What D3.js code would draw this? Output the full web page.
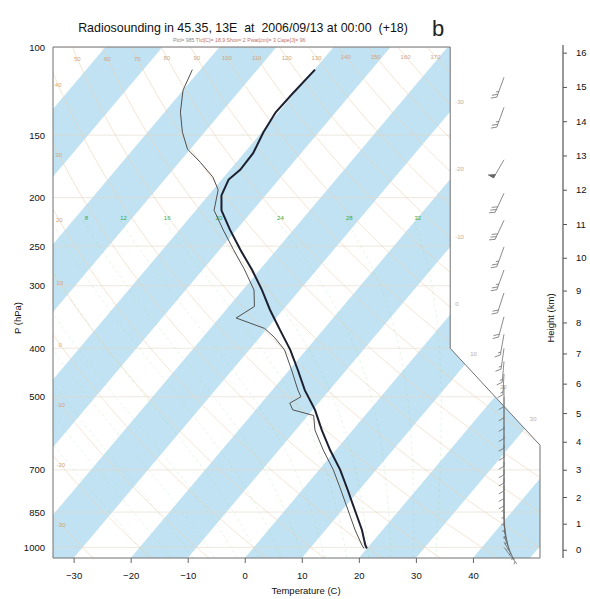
<!DOCTYPE html>
<html>
<head>
<meta charset="utf-8">
<script src="https://cdn.jsdelivr.net/npm/d3@7"></script>
<style>
  body { margin: 0; background: #fff; }
  svg text { font-family: "Liberation Sans", Arial, Helvetica, sans-serif; }
</style>
</head>
<body>
<svg id="chart" width="590" height="599"></svg>
<script>
// ---- Sounding: temperature profile (hPa, °C)
const tempP = [1005, 989, 923, 842, 768, 700, 639, 583, 531, 485, 442, 403, 368, 335, 306, 279, 254, 232, 212, 198, 184, 176, 163, 148, 135, 124, 111];
const tempC = [20.0, 19.2, 16.4, 12.2, 8.0, 3.7, -1.0, -5.4, -9.6, -14.3, -18.5, -22.8, -27.5, -32.3, -36.6, -41.3, -46.4, -51.1, -55.5, -57.7, -58.8, -58.2, -58.4, -59.7, -60.5, -60.3, -59.9];

// ---- Sounding: dew point profile (hPa, °C)
const dewP = [1005, 989, 923, 842, 768, 700, 639, 583, 545, 531, 515, 500, 485, 442, 403, 380, 365, 348, 330, 306, 279, 254, 232, 212, 193, 182, 170, 160, 148, 135, 122, 111];
const dewC = [19.5, 18.6, 15.2, 11.0, 6.8, 2.5, -2.2, -6.6, -9.0, -13.5, -15.0, -14.0, -15.5, -19.6, -23.8, -27.5, -30.5, -37.0, -35.5, -38.0, -42.6, -47.6, -52.3, -56.8, -59.1, -61.9, -66.3, -70.5, -73.9, -77.2, -80.0, -81.4];

// ---- Winds: level (hPa), direction (deg), speed (kt)
const windP   = [115, 132, 168, 196, 222, 251, 279, 310, 346, 375, 400, 425, 450, 475, 500, 525, 550, 575, 600, 625, 650, 675, 700, 725, 750, 775, 800, 825, 850, 875, 900, 925, 950, 975, 1000];
const windDir = [200, 200, 210, 205, 205, 200, 200, 198, 195, 190, 188, 185, 183, 180, 180, 180, 180, 180, 180, 180, 180, 180, 180, 180, 180, 180, 180, 180, 178, 175, 170, 165, 158, 150, 142];
const windSpd = [25, 25, 50, 30, 30, 25, 25, 20, 20, 15, 15, 15, 15, 10, 10, 10, 10, 10, 10, 10, 10, 10, 10, 10, 10, 5, 5, 5, 5, 5, 5, 5, 5, 5, 5];

// ---- Axis ticks and background line sets
const pressureTicks = [1000, 850, 700, 500, 400, 300, 250, 200, 150, 100];
const tempTicks = [-30, -20, -10, 0, 10, 20, 30, 40];
const heightTicks = [0, 1, 2, 3, 4, 5, 6, 7, 8, 9, 10, 11, 12, 13, 14, 15, 16];
const bandStarts = [-120, -100, -80, -60, -40, -20, 0, 20, 40];
const dryThetas = [-30, -20, -10, 0, 10, 20, 30, 40, 50, 60, 70, 80, 90, 100, 110, 120, 130, 140, 150, 160, 170];
const moistThetaW = [-20, -16, -12, -8, -4, 0, 4, 8, 12, 16, 20, 24, 28, 32];
const isothermLabels = [-30, -20, -10, 0, 10, 20, 30];

const titleText = "Radiosounding in 45.35, 13E  at  2006/09/13 at 00:00  (+18)";

// ---- Skew-T coordinate system
const XMIN = -19.0, XMAX = 27.1, YMIN = -0.9346217, YMAX = 44.061;
const yOfP = p => 132.182 - 44.061 * Math.log10(p);
const xOfTP = (t, p) => 0.54 * t + 0.90692 * yOfP(p);

const sx = d3.scaleLinear().domain([XMIN, XMAX]).range([53, 540]);
const sy = d3.scaleLinear().domain([YMIN, YMAX]).range([558, 47]);
const pScale = d3.scaleLog().domain([1050, 100]).range([558, 47]);
const tScale = d3.scaleLinear()
  .domain([(XMIN - 0.90692 * YMIN) / 0.54, (XMAX - 0.90692 * YMIN) / 0.54])
  .range([53, 540]);

const px = (t, p) => sx(xOfTP(t, p));
const py = p => sy(yOfP(p));

const svg = d3.select("#chart");
const outline = [[XMIN, YMIN], [XMAX, YMIN], [XMAX, 9.0], [18.6, 17.53], [18.6, YMAX], [XMIN, YMAX]];
const outlinePx = outline.map(d => [sx(d[0]), sy(d[1])]);

svg.append("defs").append("clipPath").attr("id", "diag")
  .append("polygon").attr("points", outlinePx.map(d => d.join(",")).join(" "));

const plot = svg.append("g").attr("clip-path", "url(#diag)");
const line = d3.line();

// Alternating shaded isotherm bands
bandStarts.forEach(t1 => {
  const t2 = t1 + 10;
  const pts = [[0.54 * t1 + 0.90692 * YMIN, YMIN], [0.54 * t2 + 0.90692 * YMIN, YMIN],
               [0.54 * t2 + 0.90692 * YMAX, YMAX], [0.54 * t1 + 0.90692 * YMAX, YMAX]];
  plot.append("polygon")
    .attr("points", pts.map(d => sx(d[0]) + "," + sy(d[1])).join(" "))
    .attr("fill", "#c0e2f2");
});

// Isobars
pressureTicks.forEach(p => {
  plot.append("line")
    .attr("x1", sx(XMIN)).attr("x2", sx(XMAX))
    .attr("y1", pScale(p)).attr("y2", pScale(p))
    .attr("stroke", "#e3d6c8").attr("stroke-width", 0.6);
});

// Dry adiabats
const pLevels = d3.range(1050, 99, -5);
const inside = (x, y) => d3.polygonContains(outline, [x, y]);
dryThetas.forEach(th => {
  const pts = pLevels.map(p => {
    const t = (th + 273.15) * Math.pow(p / 1000, 0.28571) - 273.15;
    return [px(t, p), py(p)];
  });
  plot.append("path").attr("d", line(pts))
    .attr("fill", "none").attr("stroke", "#ecd2b6").attr("stroke-width", 0.6);
  // label near the upper end where the line enters the diagram
  const fine = d3.range(100, 1050, 0.5).map(p => {
    const t = (th + 273.15) * Math.pow(p / 1000, 0.28571) - 273.15;
    return [px(t, p), py(p), xOfTP(t, p), yOfP(p)];
  });
  const i0 = fine.findIndex(d => inside(d[2], d[3]));
  if (i0 < 0) return;
  const e = fine[i0];
  const lab = fine.slice(i0).find(d => Math.hypot(d[0] - e[0], d[1] - e[1]) >= 12);
  if (!lab) return;
  svg.append("text").attr("x", lab[0]).attr("y", lab[1] + 2)
    .attr("text-anchor", "middle").attr("font-size", 6).attr("fill", "#cfa57a")
    .text(th);
});

// Saturated (moist) adiabats
function dTdp(T, p) {
  const es = 6.112 * Math.exp(17.67 * (T - 273.15) / (T - 29.65));
  const rs = 0.622 * es / (p - es);
  const Rd = 287.04, cp = 1005.7, L = 2.501e6;
  return (Rd * T + L * rs) / (p * (cp + L * L * rs * 0.622 / (Rd * T * T)));
}
function moistPath(tw) {
  const step = 2;
  let T = tw + 273.15, p = 1000;
  const up = [[p, T]];
  while (p > 220) {
    const k1 = dTdp(T, p), k2 = dTdp(T - step / 2 * k1, p - step / 2);
    const k3 = dTdp(T - step / 2 * k2, p - step / 2), k4 = dTdp(T - step * k3, p - step);
    T -= step / 6 * (k1 + 2 * k2 + 2 * k3 + k4); p -= step;
    up.push([p, T]);
  }
  T = tw + 273.15; p = 1000;
  const down = [];
  while (p < 1050) {
    T += step * dTdp(T, p); p += step;
    down.unshift([p, T]);
  }
  return down.concat(up).map(d => [d[0], d[1] - 273.15]);
}
moistThetaW.forEach(tw => {
  const pts = moistPath(tw);
  plot.append("path").attr("d", line(pts.map(d => [px(d[1], d[0]), py(d[0])])))
    .attr("fill", "none").attr("stroke", "#9fdc9f").attr("stroke-width", 0.6)
    .attr("stroke-dasharray", "3,3").attr("opacity", 0.45);
  const top = pts[pts.length - 1];
  const lx = xOfTP(top[1], top[0]), ly = yOfP(top[0]);
  if (inside(lx, ly) && lx > XMIN + 1) {
    svg.append("text").attr("x", sx(lx) + 5).attr("y", sy(ly) + 2)
      .attr("text-anchor", "middle").attr("font-size", 6).attr("fill", "#3aa540")
      .text(tw);
  }
});

// Isotherm labels where the lines leave the right side
isothermLabels.forEach(t => {
  let y = (18.6 - 0.54 * t) / 0.90692, x = 18.6;
  if (y < 17.53) {
    const k = 8.5 / 8.53;
    y = (18.6 + k * 17.53 - 0.54 * t) / (0.90692 + k);
    x = 0.54 * t + 0.90692 * y;
  }
  svg.append("text").attr("x", sx(x) + 5).attr("y", sy(y) - 8)
    .attr("font-size", 6).attr("fill", "#c2ad96").text(t);
});

// Diagram outline
svg.append("polygon").attr("points", outlinePx.map(d => d.join(",")).join(" "))
  .attr("fill", "none").attr("stroke", "#707070").attr("stroke-width", 1);

// Dew point and temperature profiles
const profLine = d3.line().x(d => px(d[1], d[0])).y(d => py(d[0]));
svg.append("path").attr("d", profLine(d3.zip(dewP, dewC)))
  .attr("fill", "none").attr("stroke", "#505050").attr("stroke-width", 1);
svg.append("path").attr("d", profLine(d3.zip(tempP, tempC)))
  .attr("fill", "none").attr("stroke", "#1c2030").attr("stroke-width", 2);

// Wind barbs
const barbX = 504, staff = 21;
windP.forEach((p, i) => {
  const th = windDir[i] * Math.PI / 180;
  const u = [Math.sin(th), -Math.cos(th)];
  const n = [-u[1], u[0]];
  const bx = barbX, by = pScale(p);
  const tip = [bx + staff * u[0], by + staff * u[1]];
  const g = svg.append("g").attr("stroke", "#666").attr("stroke-width", 0.75).attr("fill", "#666");
  g.append("line").attr("x1", bx).attr("y1", by).attr("x2", tip[0]).attr("y2", tip[1]);
  let s = windSpd[i], pos = 0;
  const at = d => [tip[0] - d * u[0], tip[1] - d * u[1]];
  const fl = 6;
  while (s >= 50) {
    const a = at(pos), b = at(pos + 4);
    const c = [a[0] + fl * n[0], a[1] + fl * n[1]];
    g.append("polygon").attr("points", [a, c, b].map(d => d.join(",")).join(" "));
    s -= 50; pos += 5;
  }
  while (s >= 10) {
    const a = at(pos);
    g.append("line").attr("x1", a[0]).attr("y1", a[1])
      .attr("x2", a[0] + fl * (0.87 * n[0] + 0.5 * u[0])).attr("y2", a[1] + fl * (0.87 * n[1] + 0.5 * u[1]));
    s -= 10; pos += 3;
  }
  if (s >= 5) {
    if (pos === 0) pos = 3;
    const a = at(pos);
    g.append("line").attr("x1", a[0]).attr("y1", a[1])
      .attr("x2", a[0] + 3 * (0.87 * n[0] + 0.5 * u[0])).attr("y2", a[1] + 3 * (0.87 * n[1] + 0.5 * u[1]));
  }
});

// Pressure axis (left)
const leftAxis = d3.axisLeft(pScale).tickValues(pressureTicks).tickFormat(d3.format("d")).tickSize(0).tickPadding(8);
svg.append("g").attr("transform", "translate(53,0)").call(leftAxis)
  .call(g => g.select(".domain").remove())
  .call(g => g.selectAll("text").attr("font-size", 9.5).attr("fill", "#111").attr("font-family", null));

// Temperature axis (bottom)
const bottomAxis = d3.axisBottom(tScale).tickValues(tempTicks).tickFormat(d3.format("d")).tickSize(5).tickPadding(9);
svg.append("g").attr("transform", "translate(0,558)").call(bottomAxis)
  .call(g => g.select(".domain").remove())
  .call(g => g.selectAll("line").attr("stroke", "#666"))
  .call(g => g.selectAll("text").attr("font-size", 9.5).attr("fill", "#111").attr("font-family", null));

// Height axis (right), standard atmosphere
const stdP = h => h <= 11 ? 1013.25 * Math.pow(1 - 0.0065 * h * 1000 / 288.15, 5.25588)
                          : 226.32 * Math.exp(-(h - 11) * 1000 / 6341.62);
const hScale = h => pScale(stdP(h));
const rightAxis = d3.axisRight(d3.scaleLinear().domain([0, 16]).range([hScale(0), hScale(16)]))
  .tickValues(heightTicks).tickFormat(d3.format("d")).tickSize(4).tickPadding(9);
const rg = svg.append("g").attr("transform", "translate(563,0)").call(rightAxis);
rg.select(".domain").remove();
rg.selectAll(".tick").attr("transform", d => `translate(0,${hScale(d)})`);
rg.selectAll("line").attr("stroke", "#555");
rg.selectAll("text").attr("font-size", 9.5).attr("fill", "#111").attr("font-family", null);
svg.append("line").attr("x1", 563).attr("x2", 563).attr("y1", 45).attr("y2", 558)
  .attr("stroke", "#555").attr("stroke-width", 1.2);

// Axis titles
svg.append("text").attr("transform", "translate(21,318) rotate(-90)")
  .attr("text-anchor", "middle").attr("font-size", 9.5).attr("fill", "#111").text("P (hPa)");
svg.append("text").attr("transform", "translate(554,318) rotate(-90)")
  .attr("text-anchor", "middle").attr("font-size", 9.5).attr("fill", "#111").text("Height (km)");
svg.append("text").attr("x", 306).attr("y", 594)
  .attr("text-anchor", "middle").attr("font-size", 9.5).attr("fill", "#111").text("Temperature (C)");

// Title, info line and panel letter
svg.append("text").attr("x", 243).attr("y", 32).style("white-space", "pre")
  .attr("text-anchor", "middle").attr("font-size", 12.4).attr("fill", "#111").text(titleText);
const info = svg.append("text").attr("x", 173).attr("y", 42).attr("font-size", 5.2);
info.append("tspan").attr("fill", "#8a8a8a").text("Plcl= 985  ");
info.append("tspan").attr("fill", "#c0706a").text("Tlcl[C]= 18.9  Shox= 2  Pwat[cm]= 3  Cape[J]= 96");
svg.append("text").attr("x", 438).attr("y", 36)
  .attr("text-anchor", "middle").attr("font-size", 22)
  .attr("font-family", "'Liberation Serif', 'DejaVu Serif', serif").attr("fill", "#222").text("b");
</script>
</body>
</html>
